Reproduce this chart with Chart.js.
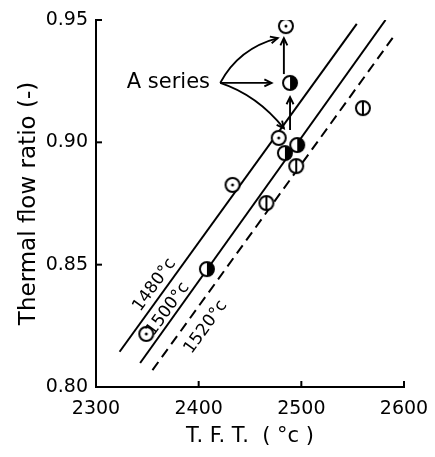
<!DOCTYPE html>
<html>
<head>
<meta charset="utf-8">
<script src="https://cdn.jsdelivr.net/npm/chart.js@4.4.1/dist/chart.umd.min.js"></script>
<style>
  html, body { margin: 0; padding: 0; background: #fff; }
</style>
</head>
<body>
<canvas id="tftChart" width="435" height="457"></canvas>
<script>
// tick values
const xTicks = [2300, 2400, 2500, 2600];
const yTicks = [0.80, 0.85, 0.90, 0.95];
const yTickLabels = ['0.80', '0.85', '0.90', '0.95'];

// measured points, one array per marker type
const openDot = [
  {x: 2485, y: 0.9475}, {x: 2478, y: 0.9018}, {x: 2433, y: 0.8826}, {x: 2349, y: 0.8217}
];
const halfFilled = [
  {x: 2489, y: 0.9243}, {x: 2496, y: 0.8989}, {x: 2484, y: 0.8956}, {x: 2408, y: 0.8482}
];
const barred = [
  {x: 2560, y: 0.9140}, {x: 2495, y: 0.8903}, {x: 2466, y: 0.8752}
];

// isotherm lines
const line1480 = [{x: 2323, y: 0.8144}, {x: 2554, y: 0.9484}];
const line1500 = [{x: 2343, y: 0.8098}, {x: 2582, y: 0.9500}];
const line1520 = [{x: 2355, y: 0.8069}, {x: 2591, y: 0.9439}];
const lineNames = ['1480°c', '1500°c', '1520°c'];

// annotation anchors (data units)
const nameAnchors = [{x: 2357, y: 0.8417}, {x: 2370, y: 0.8318}, {x: 2407, y: 0.8245}];
const seriesText = {text: 'A series', x: 2330, y: 0.9243};
const arrowFrom = {x: 2421, y: 0.9243};
const curvedArrows = [
  {cx: 2439, cy: 0.9384, x: 2477, y: 0.9426},
  {cx: 2445, cy: 0.9243, x: 2471, y: 0.9243},
  {cx: 2457, cy: 0.9193, x: 2483, y: 0.9057}
];
const straightArrows = [
  {x0: 2483, y0: 0.9279, x1: 2483, y1: 0.9426},
  {x0: 2489, y0: 0.9050, x1: 2489, y1: 0.9185}
];

const FONT = 'DejaVu Sans';

function marker(kind) {
  const c = document.createElement('canvas');
  c.width = 18; c.height = 18;
  const g = c.getContext('2d');
  const r = 7;
  g.lineWidth = 2;
  g.strokeStyle = '#000';
  g.fillStyle = '#fff';
  g.beginPath(); g.arc(9, 9, r, 0, Math.PI * 2); g.fill();
  if (kind === 'half') {
    g.fillStyle = '#000';
    g.beginPath(); g.arc(9, 9, r, -Math.PI / 2, Math.PI / 2); g.closePath(); g.fill();
  }
  g.beginPath(); g.arc(9, 9, r, 0, Math.PI * 2); g.stroke();
  if (kind === 'dot') {
    g.fillStyle = '#000';
    g.beginPath(); g.arc(9, 9, 1.5, 0, Math.PI * 2); g.fill();
  }
  if (kind === 'bar') {
    g.beginPath(); g.moveTo(9, 2); g.lineTo(9, 16); g.stroke();
  }
  return c;
}

function arrowHead(ctx, x, y, ang) {
  const L = 8, w = 0.45;
  ctx.beginPath();
  ctx.moveTo(x - L * Math.cos(ang - w), y - L * Math.sin(ang - w));
  ctx.lineTo(x, y);
  ctx.lineTo(x - L * Math.cos(ang + w), y - L * Math.sin(ang + w));
  ctx.stroke();
}

const extras = {
  id: 'extras',
  afterDatasetsDraw(chart) {
    const ctx = chart.ctx;
    const xs = chart.scales.x, ys = chart.scales.y;
    const px = v => xs.getPixelForValue(v), py = v => ys.getPixelForValue(v);
    ctx.save();
    ctx.strokeStyle = '#000';
    ctx.fillStyle = '#000';
    ctx.lineWidth = 2;

    // inward tick marks
    xTicks.slice(1).forEach(v => {
      ctx.beginPath(); ctx.moveTo(px(v), py(0.80)); ctx.lineTo(px(v), py(0.80) - 6); ctx.stroke();
    });
    yTicks.slice(1).forEach(v => {
      ctx.beginPath(); ctx.moveTo(px(2300), py(v)); ctx.lineTo(px(2300) + 6, py(v)); ctx.stroke();
    });

    // line names along the lines
    const ang = Math.atan2(py(line1480[1].y) - py(line1480[0].y), px(line1480[1].x) - px(line1480[0].x));
    ctx.font = '17px "' + FONT + '"';
    ctx.textAlign = 'center';
    ctx.textBaseline = 'middle';
    lineNames.forEach((t, i) => {
      ctx.save();
      ctx.translate(px(nameAnchors[i].x), py(nameAnchors[i].y));
      ctx.rotate(ang);
      ctx.fillText(t, 0, 0);
      ctx.restore();
    });

    // "A series" label and arrows
    ctx.font = '21px "' + FONT + '"';
    ctx.textAlign = 'left';
    ctx.fillText(seriesText.text, px(seriesText.x), py(seriesText.y));
    ctx.lineWidth = 1.9;
    const ox = px(arrowFrom.x), oy = py(arrowFrom.y);
    curvedArrows.forEach(a => {
      const cx = px(a.cx), cy = py(a.cy), ex = px(a.x), ey = py(a.y);
      ctx.beginPath(); ctx.moveTo(ox, oy); ctx.quadraticCurveTo(cx, cy, ex, ey); ctx.stroke();
      arrowHead(ctx, ex, ey, Math.atan2(ey - cy, ex - cx));
    });
    straightArrows.forEach(a => {
      const x0 = px(a.x0), y0 = py(a.y0), x1 = px(a.x1), y1 = py(a.y1);
      ctx.beginPath(); ctx.moveTo(x0, y0); ctx.lineTo(x1, y1); ctx.stroke();
      arrowHead(ctx, x1, y1, Math.atan2(y1 - y0, x1 - x0));
    });
    ctx.restore();
  }
};

const lineSet = (data, dash) => ({
  data, showLine: true, borderColor: '#000', borderWidth: 2,
  borderDash: dash, pointRadius: 0, pointHoverRadius: 0, fill: false, order: 2
});
const pointSet = (data, img) => ({
  data, showLine: false, pointStyle: img, pointRadius: 9, order: 1
});

new Chart(document.getElementById('tftChart').getContext('2d'), {
  type: 'scatter',
  data: {
    datasets: [
      lineSet(line1480, []),
      lineSet(line1500, []),
      lineSet(line1520, [10, 6]),
      pointSet(openDot, marker('dot')),
      pointSet(halfFilled, marker('half')),
      pointSet(barred, marker('bar'))
    ]
  },
  options: {
    responsive: false,
    animation: false,
    devicePixelRatio: 1,
    layout: { padding: { top: 20, right: 31, left: 0, bottom: 0 } },
    plugins: { legend: { display: false }, tooltip: { enabled: false } },
    scales: {
      x: {
        type: 'linear', min: 2300, max: 2600,
        afterBuildTicks: s => { s.ticks = xTicks.map(v => ({value: v})); },
        afterFit: s => { s.height = 70; s.paddingLeft = 0; s.paddingRight = 0; },
        grid: { display: false, drawTicks: false },
        border: { display: true, color: '#000', width: 2 },
        ticks: { color: '#000', padding: 11, font: { family: FONT, size: 19 }, maxRotation: 0,
                 callback: v => String(v) },
        title: { display: true, text: 'T. F. T.  ( °c )', color: '#000', font: { family: FONT, size: 21 }, padding: { bottom: 8 } }
      },
      y: {
        type: 'linear', min: 0.80, max: 0.95,
        afterBuildTicks: s => { s.ticks = yTicks.map(v => ({value: v})); },
        afterFit: s => { s.width = 96; s.paddingTop = 0; s.paddingBottom = 0; },
        grid: { display: false, drawTicks: false },
        border: { display: true, color: '#000', width: 2 },
        ticks: {
          color: '#000', padding: 8, font: { family: FONT, size: 19 },
          callback: (v) => yTickLabels[yTicks.findIndex(t => Math.abs(t - v) < 1e-6)]
        },
        title: { display: true, text: 'Thermal flow ratio (-)', color: '#000', font: { family: FONT, size: 23 }, padding: { top: 15 } }
      }
    }
  },
  plugins: [extras]
});
</script>
</body>
</html>
